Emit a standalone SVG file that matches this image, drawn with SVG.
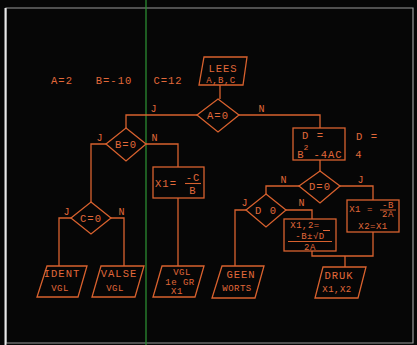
<svg xmlns="http://www.w3.org/2000/svg" width="417" height="345" viewBox="0 0 417 345">
<defs>
<style>
.sh{fill:none;stroke:#d8612e;stroke-width:1.3}
.cn{fill:none;stroke:#d8612e;stroke-width:1.3}
text{font-family:"Liberation Mono","DejaVu Sans Mono",monospace;font-size:10.5px;fill:#e2693a;text-anchor:middle;letter-spacing:1px}
.sm{font-size:9px;letter-spacing:0.5px}
.xs{font-size:8px;letter-spacing:0}
.lb{font-size:10px}
</style>
</defs>
<rect x="0" y="0" width="417" height="345" fill="#060606"/>
<path d="M6,8 H413 V343 H6 Z" fill="none" stroke="#9a9a9a" stroke-width="1.2"/>
<line x1="5.5" y1="8" x2="5.5" y2="345" stroke="#e8e8e8" stroke-width="2"/>
<line x1="146" y1="0" x2="146" y2="345" stroke="#2a8a30" stroke-width="1.3"/>

<g id="connectors">
<path class="cn" d="M220,85 V99"/>
<path class="cn" d="M197,115 H126 V128"/>
<path class="cn" d="M239,115 H320 V128"/>
<path class="cn" d="M320,160 V171"/>
<path class="cn" d="M299,186 H266 V194"/>
<path class="cn" d="M340,186 H373 V200"/>
<path class="cn" d="M246,210 H235 V266"/>
<path class="cn" d="M286,210 H312 V219"/>
<path class="cn" d="M312,251 V256 H373 V232"/>
<path class="cn" d="M345,256 V267"/>
<path class="cn" d="M106,144 H91 V202"/>
<path class="cn" d="M146,144 H178 V167"/>
<path class="cn" d="M178,198 V266"/>
<path class="cn" d="M71,218 H59 V266"/>
<path class="cn" d="M111,218 H124 V266"/>
</g>

<g id="labels">
<text x="154" y="112" class="lb">J</text>
<text x="262" y="112" class="lb">N</text>
<text x="100" y="141" class="lb">J</text>
<text x="155" y="141" class="lb">N</text>
<text x="284" y="183" class="lb">N</text>
<text x="361" y="183" class="lb">J</text>
<text x="245" y="206" class="lb">J</text>
<text x="302" y="206" class="lb">N</text>
<text x="67" y="215" class="lb">J</text>
<text x="122" y="215" class="lb">N</text>
<text x="62" y="84">A=2</text>
<text x="114" y="84">B=-10</text>
<text x="168" y="84">C=12</text>
<text x="367" y="140">D =</text>
<text x="359" y="158">4</text>
</g>

<g id="lees">
<path class="sh" d="M204,57 L247,57 L243,85 L199,85 Z"/>
<text x="223" y="72">LEES</text>
<text x="221" y="83" class="sm">A,B,C</text>
</g>
<g id="a0">
<path class="sh" d="M218,99 L239,115 L218,132 L197,115 Z"/>
<text x="218" y="119">A=0</text>
</g>
<g id="b0">
<path class="sh" d="M126,128 L146,144 L126,161 L106,144 Z"/>
<text x="126" y="148">B=0</text>
</g>
<g id="c0">
<path class="sh" d="M91,202 L111,218 L91,234 L71,218 Z"/>
<text x="91" y="222">C=0</text>
</g>
<g id="dbox">
<rect class="sh" x="293" y="128" width="52" height="32"/>
<text x="313" y="139">D =</text>
<text x="301" y="158">B</text>
<text x="306" y="150" class="xs">2</text>
<text x="328" y="158">-4AC</text>
</g>
<g id="d0">
<path class="sh" d="M320,171 L340,186 L320,203 L299,186 Z"/>
<text x="320" y="190">D=0</text>
</g>
<g id="dlt0">
<path class="sh" d="M266,194 L286,210 L266,227 L246,210 Z"/>
<text x="266" y="214">D 0</text>
</g>
<g id="x1b">
<rect class="sh" x="153" y="167" width="51" height="31"/>
<text x="166" y="187">X1=</text>
<text x="193" y="181">-C</text>
<line x1="185" y1="183.5" x2="201" y2="183.5" stroke="#d8612e" stroke-width="1.1"/>
<text x="193" y="194">B</text>
</g>
<g id="x12">
<rect class="sh" x="284" y="219" width="52" height="32"/>
<text x="305" y="228" class="sm">X1,2=</text>
<text x="310" y="239" class="sm">-B±√D</text>
<line x1="323" y1="230.5" x2="330" y2="230.5" stroke="#e2693a" stroke-width="1"/>
<line x1="288" y1="241.5" x2="332" y2="241.5" stroke="#d8612e" stroke-width="1.1"/>
<text x="310" y="250" class="sm">2A</text>
</g>
<g id="x1d">
<rect class="sh" x="347" y="200" width="52" height="32"/>
<text x="361" y="212" class="sm">X1 =</text>
<text x="388" y="208" class="sm">-B</text>
<line x1="380" y1="210" x2="396" y2="210" stroke="#d8612e" stroke-width="1"/>
<text x="388" y="217" class="sm">2A</text>
<text x="373" y="229" class="sm">X2=X1</text>
</g>
<g id="ident">
<path class="sh" d="M47,266 L87,266 L78,297 L37,297 Z"/>
<text x="62" y="277">IDENT</text>
<text x="60" y="291" class="sm">VGL</text>
</g>
<g id="valse">
<path class="sh" d="M101,266 L144,266 L135,297 L92,297 Z"/>
<text x="119" y="277">VALSE</text>
<text x="115" y="291" class="sm">VGL</text>
</g>
<g id="vgl1">
<path class="sh" d="M162,266 L204,266 L195,297 L153,297 Z"/>
<text x="182" y="275" class="sm">VGL</text>
<text x="180" y="285" class="sm">1e GR</text>
<text x="177" y="294" class="sm">X1</text>
</g>
<g id="geen">
<path class="sh" d="M222,266 L264,266 L255,298 L212,298 Z"/>
<text x="241" y="278">GEEN</text>
<text x="237" y="291" class="sm">WORTS</text>
</g>
<g id="druk">
<path class="sh" d="M323,267 L366,267 L358,298 L315,298 Z"/>
<text x="339" y="279">DRUK</text>
<text x="337" y="292" class="sm">X1,X2</text>
</g>
</svg>
